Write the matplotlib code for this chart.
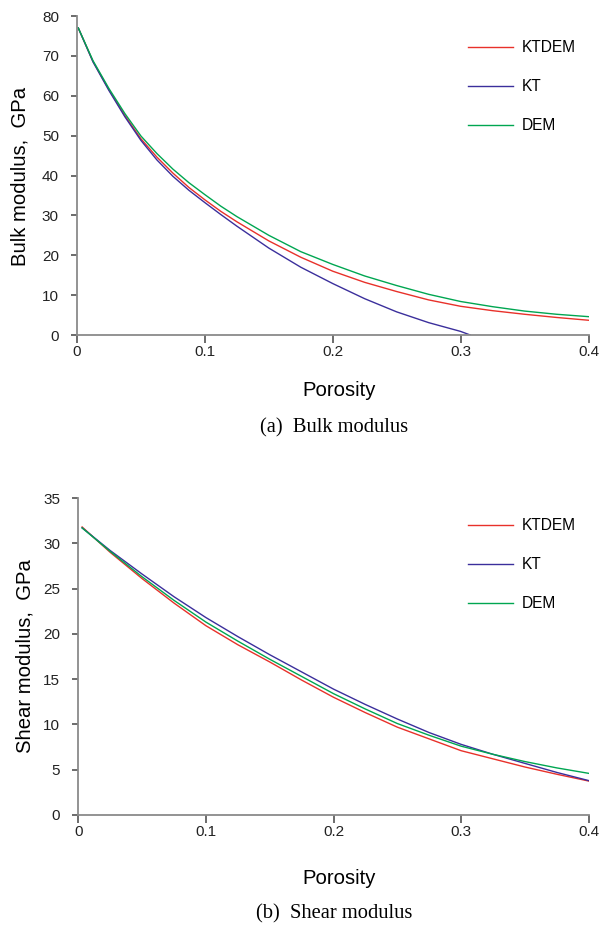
import numpy as np
import matplotlib
matplotlib.use("Agg")
import matplotlib.pyplot as plt

# porosity and moduli (GPa)
phi_bulk = [0.001, 0.0125, 0.025, 0.0375, 0.05, 0.0625, 0.075, 0.0875, 0.1, 0.1125,
            0.125, 0.15, 0.175, 0.2, 0.225, 0.25, 0.275, 0.3, 0.325, 0.35, 0.375, 0.4]
k_ktdem = [77.0, 68.6, 61.5, 55.0, 49.2, 44.6, 40.6, 37.0, 33.9, 31.0,
           28.4, 23.6, 19.5, 16.0, 13.2, 10.9, 8.8, 7.2, 6.1, 5.2, 4.4, 3.7]
k_dem = [77.0, 68.8, 61.8, 55.5, 49.9, 45.5, 41.6, 38.2, 35.2, 32.3,
         29.7, 25.0, 20.9, 17.7, 14.8, 12.4, 10.2, 8.4, 7.1, 6.0, 5.2, 4.6]
phi_kt = [0.001, 0.0125, 0.025, 0.0375, 0.05, 0.0625, 0.075, 0.0875, 0.1, 0.1125,
          0.125, 0.15, 0.175, 0.2, 0.225, 0.25, 0.275, 0.3, 0.3075]
k_kt = [77.0, 68.5, 61.3, 54.7, 48.8, 43.9, 39.8, 36.3, 33.2, 30.2,
        27.3, 21.8, 17.0, 12.9, 9.1, 5.8, 3.1, 0.9, 0.0]

phi_shear = [0.003, 0.025, 0.05, 0.075, 0.1, 0.125, 0.15, 0.175, 0.2, 0.225, 0.25,
             0.275, 0.3, 0.325, 0.35, 0.375, 0.4]
g_ktdem = [31.8, 29.0, 26.1, 23.4, 20.9, 18.8, 16.9, 14.9, 13.0, 11.3, 9.7,
           8.4, 7.1, 6.2, 5.3, 4.5, 3.75]
g_kt = [31.7, 29.2, 26.6, 24.1, 21.8, 19.7, 17.7, 15.8, 13.9, 12.2, 10.6,
        9.1, 7.8, 6.7, 5.7, 4.7, 3.8]
g_dem = [31.7, 29.1, 26.3, 23.7, 21.3, 19.2, 17.2, 15.3, 13.4, 11.7, 10.1,
         8.8, 7.6, 6.7, 5.9, 5.2, 4.6]

labels = ["KTDEM", "KT", "DEM"]
red = "#e8312a"
blue = "#3b2f9c"
green = "#00a651"
grey = "#8a8a8a"

plt.rcParams["font.family"] = ["Liberation Sans", "DejaVu Sans"]

W, H = 599.0, 925.0
fig = plt.figure(figsize=(W / 100, H / 100), dpi=100)


def px_axes(left, right, top, bottom):
    # axes box from pixel edges
    return fig.add_axes([left / W, 1 - bottom / H, (right - left) / W, (bottom - top) / H])


def style_axes(ax, ymax, ystep):
    for s in ["top", "right"]:
        ax.spines[s].set_visible(False)
    for s in ["left", "bottom"]:
        ax.spines[s].set_color(grey)
        ax.spines[s].set_linewidth(1.3)
    ax.set_xlim(0, 0.4)
    ax.set_ylim(0, ymax)
    ax.set_xticks([0, 0.1, 0.2, 0.3, 0.4])
    ax.set_xticklabels(["0", "0.1", "0.2", "0.3", "0.4"])
    ax.set_yticks(np.arange(0, ymax + 0.1, ystep))
    ax.tick_params(direction="out", width=1.1, color="#444444",
                   labelsize=11, labelcolor="#222222")
    ax.tick_params(axis="x", length=5.5, pad=1.5)
    ax.tick_params(axis="y", length=4, pad=9)


def add_legend(ax, top_px):
    ax.legend(loc="upper left", bbox_to_anchor=(468 / W, 1 - top_px / H),
              bbox_transform=fig.transFigure, frameon=False, fontsize=11.2,
              handlelength=2.9, handletextpad=0.55, labelspacing=1.55,
              borderpad=0, borderaxespad=0)


# (a) bulk modulus
ax1 = px_axes(77, 588.5, 16, 335)
ax1.plot(phi_bulk, k_ktdem, color=red, lw=1.0, label=labels[0])
ax1.plot(phi_kt, k_kt, color=blue, lw=1.0, label=labels[1])
ax1.plot(phi_bulk, k_dem, color=green, lw=1.0, label=labels[2])
style_axes(ax1, 80, 10)
add_legend(ax1, 40)
fig.text(20 / W, 1 - 176 / H, "Bulk modulus,  GPa", rotation=90, ha="center",
         va="center", fontsize=14.6)
fig.text(339 / W, 1 - 390 / H, "Porosity", ha="center", va="center", fontsize=14.6)

# (b) shear modulus
ax2 = px_axes(78.3, 588.7, 498, 815)
ax2.plot(phi_shear, g_ktdem, color=red, lw=1.0, label=labels[0])
ax2.plot(phi_shear, g_kt, color=blue, lw=1.0, label=labels[1])
ax2.plot(phi_shear, g_dem, color=green, lw=1.0, label=labels[2])
style_axes(ax2, 35, 5)
add_legend(ax2, 518)
fig.text(25 / W, 1 - 656 / H, "Shear modulus,  GPa", rotation=90, ha="center",
         va="center", fontsize=14.6)
fig.text(339 / W, 1 - 879 / H, "Porosity", ha="center", va="center", fontsize=14.6)

fig.text(334 / W, 1 - 428 / H, "(a)  Bulk modulus", ha="center", va="center",
         fontsize=14.8, family="Liberation Serif")
fig.text(334 / W, 1 - 914 / H, "(b)  Shear modulus", ha="center", va="center",
         fontsize=14.8, family="Liberation Serif")

fig.savefig("out.png", dpi=100)
